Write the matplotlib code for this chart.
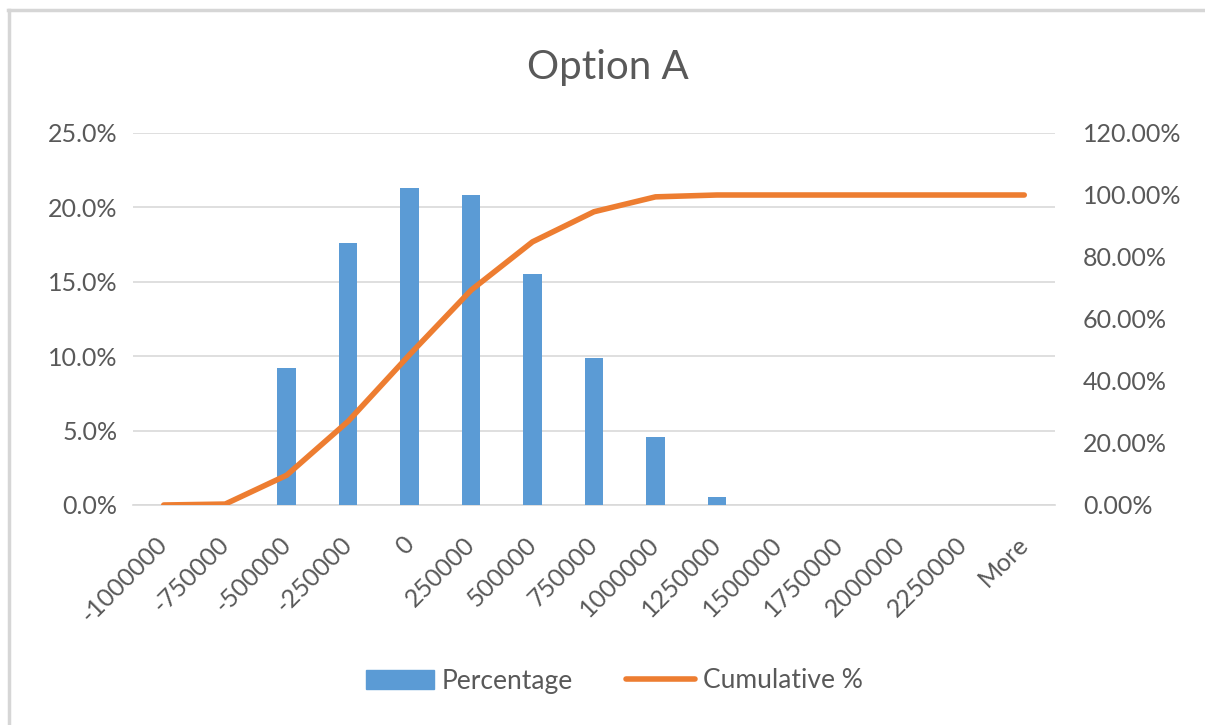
import matplotlib
matplotlib.use("Agg")
import matplotlib.pyplot as plt
from matplotlib.patches import Rectangle
from matplotlib.lines import Line2D
from matplotlib.ticker import FuncFormatter, MultipleLocator
from matplotlib.transforms import ScaledTranslation

# Histogram bins and values
bins = ["-1000000", "-750000", "-500000", "-250000", "0", "250000", "500000",
        "750000", "1000000", "1250000", "1500000", "1750000", "2000000",
        "2250000", "More"]
percentage = [0.0, 0.0, 9.2, 17.6, 21.3, 20.8, 15.5, 9.9, 4.55, 0.55,
              0.0, 0.0, 0.0, 0.0, 0.0]
cumulative = [0.0, 0.3, 9.6, 27.0, 48.5, 69.3, 84.9, 94.6, 99.4, 100.0,
              100.0, 100.0, 100.0, 100.0, 100.0]

title = "Option A"
bar_color = "#5B9BD5"
line_color = "#ED7D31"
text_color = "#595959"
grid_color = "#D9D9D9"
font = "Lato"

plt.rcParams["font.family"] = [font, "DejaVu Sans"]

W, H = 1205, 725
fig = plt.figure(figsize=(W / 100, H / 100), dpi=100)
fig.patch.set_facecolor("white")

# chart frame: top and left edges
frame_kw = dict(transform=fig.transFigure, color="#D6D6D6", linewidth=2.5)
fig.lines.append(Line2D([8 / W, 1.0], [1 - 9.5 / H, 1 - 9.5 / H], **frame_kw))
fig.lines.append(Line2D([8.5 / W, 8.5 / W], [0.0, 1 - 9.5 / H], **frame_kw))

left, right, top, bottom = 133, 1055, 133, 505
ax = fig.add_axes([left / W, 1 - bottom / H, (right - left) / W, (bottom - top) / H])
ax2 = ax.twinx()

x = list(range(len(bins)))
ax.bar(x, percentage, width=0.3, color=bar_color, zorder=3)
ax2.plot(x, cumulative, color=line_color, linewidth=4, solid_capstyle="round",
         solid_joinstyle="round", zorder=4)

ax.set_xlim(-0.5, len(bins) - 0.5)
ax.set_ylim(0, 25)
ax2.set_ylim(0, 120)
ax.yaxis.set_major_locator(MultipleLocator(5))
ax2.yaxis.set_major_locator(MultipleLocator(20))
ax.yaxis.set_major_formatter(FuncFormatter(lambda v, p: f"{v:.1f}%"))
ax2.yaxis.set_major_formatter(FuncFormatter(lambda v, p: f"{v:.2f}%"))

ax.grid(axis="y", color=grid_color, linewidth=1.2, zorder=0)
ax.set_axisbelow(True)
for a in (ax, ax2):
    for s in a.spines.values():
        s.set_visible(False)
ax.spines["bottom"].set_visible(True)
ax.spines["bottom"].set_color(grid_color)
ax.spines["bottom"].set_linewidth(1.2)

ax.set_xticks(x)
ax.set_xticklabels(bins, rotation=45, ha="right", va="top", rotation_mode="anchor")
ax.tick_params(axis="x", length=0, pad=20, labelsize=18, labelcolor=text_color)
ax.tick_params(axis="y", length=0, pad=11, labelsize=18, labelcolor=text_color)
ax2.tick_params(axis="y", length=0, pad=20, labelsize=18, labelcolor=text_color)
for lbl in ax.get_xticklabels():
    lbl.set_transform(lbl.get_transform() +
                      ScaledTranslation(-8 / 100, 0, fig.dpi_scale_trans))

fig.text(608 / W, 1 - 68 / H, title, ha="center", va="center",
         fontsize=29, color=text_color)

handles = [Rectangle((0, 0), 1, 1, color=bar_color),
           Line2D([0], [0], color=line_color, linewidth=4, solid_capstyle="round")]
fig.legend(handles, ["Percentage", "Cumulative %"], loc="center",
           bbox_to_anchor=(614 / W, 1 - 681 / H), ncol=2, frameon=False,
           fontsize=19, labelcolor=text_color, handlelength=2.6,
           handleheight=0.75, handletextpad=0.3, columnspacing=2.0)

fig.savefig("out.png", dpi=100, facecolor="white")
